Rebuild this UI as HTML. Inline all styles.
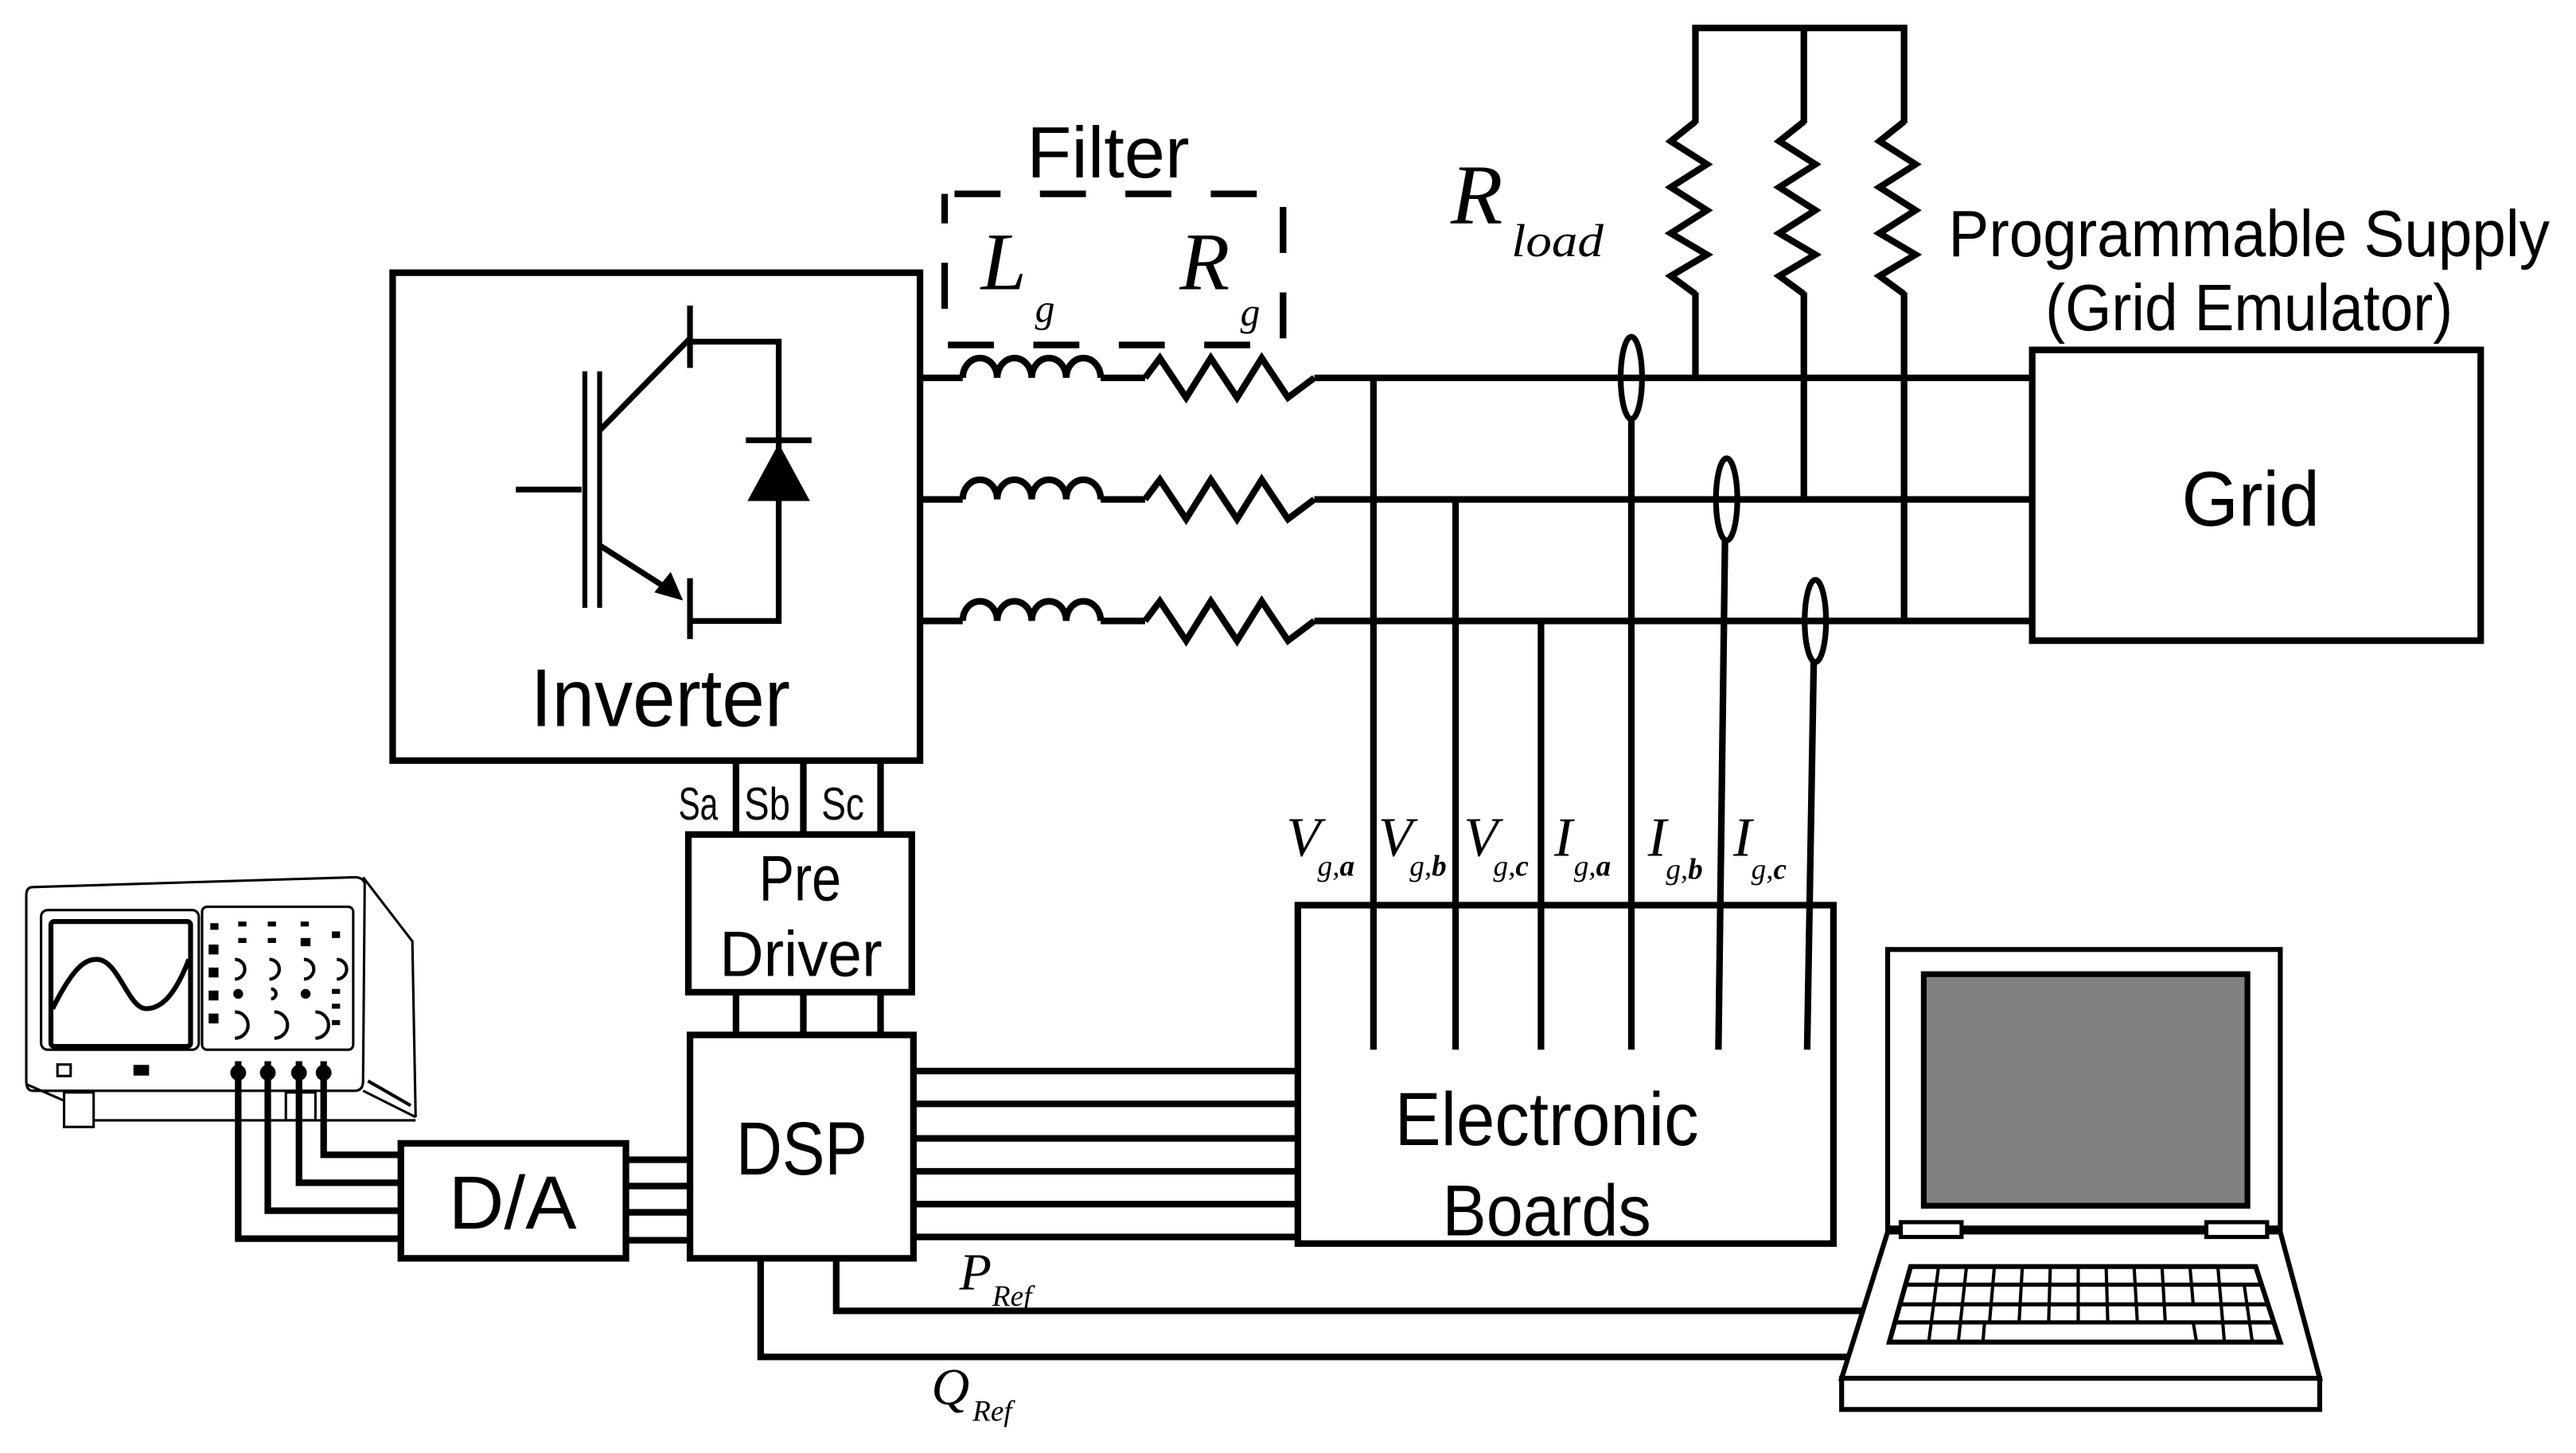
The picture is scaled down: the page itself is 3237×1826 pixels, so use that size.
<!DOCTYPE html>
<html><head><meta charset="utf-8"><style>
html,body{margin:0;padding:0;background:#fff;}
svg{display:block;}
.s{font-family:"Liberation Sans",sans-serif;}
.m{font-family:"Liberation Serif",serif;font-style:italic;}
</style></head><body>
<svg width="3237" height="1826" viewBox="0 0 1568 884.5" preserveAspectRatio="none" xmlns="http://www.w3.org/2000/svg">
<rect x="0" y="0" width="1568" height="885" fill="#fff"/>
<g fill="none" stroke="#000" stroke-width="4">
<rect x="239" y="166" width="321" height="297"/>
<line x1="314" y1="298" x2="354" y2="298" stroke-width="3.5"/>
<line x1="356" y1="226" x2="356" y2="370" stroke-width="3"/>
<line x1="365" y1="226" x2="365" y2="370" stroke-width="3"/>
<line x1="365" y1="262" x2="420" y2="206" stroke-width="3.5"/>
<line x1="420" y1="186" x2="420" y2="224" stroke-width="3.5"/>
<polyline points="420,208 474,208 474,378 420,378" stroke-width="3.5"/>
<line x1="365" y1="332" x2="412" y2="362" stroke-width="3.5"/>
<line x1="420" y1="352" x2="420" y2="389" stroke-width="3.5"/>
<line x1="454" y1="268" x2="494" y2="268" stroke-width="3.5"/>
<rect x="575" y="118" width="206" height="92" stroke-dasharray="28,24" stroke-dashoffset="-6"/>
<line x1="448" y1="463" x2="448" y2="508"/><line x1="489" y1="463" x2="489" y2="508"/><line x1="536" y1="463" x2="536" y2="508"/>
<rect x="419" y="508" width="136" height="96"/>
<line x1="448" y1="604" x2="448" y2="630"/><line x1="489" y1="604" x2="489" y2="630"/><line x1="536" y1="604" x2="536" y2="630"/>
<rect x="420" y="630" width="136" height="136"/>
<rect x="244" y="696" width="137" height="70"/>
<line x1="381" y1="706" x2="420" y2="706"/><line x1="381" y1="722" x2="420" y2="722"/><line x1="381" y1="738" x2="420" y2="738"/><line x1="381" y1="755" x2="420" y2="755"/>
<line x1="556" y1="652" x2="790" y2="652"/><line x1="556" y1="672" x2="790" y2="672"/><line x1="556" y1="693" x2="790" y2="693"/><line x1="556" y1="713" x2="790" y2="713"/><line x1="556" y1="733" x2="790" y2="733"/><line x1="556" y1="753" x2="790" y2="753"/>
<rect x="790" y="551" width="326" height="206"/>
<polyline points="509,766 509,798 1136,798"/>
<polyline points="463,766 463,826 1125,826"/>
<polyline points="197,646 197,703 244,703"/>
<polyline points="182,646 182,720 244,720"/>
<polyline points="163,646 163,737 244,737"/>
<polyline points="145,646 145,754 244,754"/>
<g id="ph">
<line x1="560" y1="230" x2="586" y2="230"/>
<path d="M586,230 a10.5,12 0 0 1 21,0 a10.5,12 0 0 1 21,0 a10.5,12 0 0 1 21,0 a10.5,12 0 0 1 21,0"/>
<line x1="670" y1="230" x2="697" y2="230"/>
<polyline points="697,230 706,218 722,242 737,218 753,242 768,218 784,242 800,230"/>
<line x1="800" y1="230" x2="1237" y2="230"/>
</g>
<use href="#ph" y="74"/>
<use href="#ph" y="148"/>
<line x1="836" y1="230" x2="836" y2="639"/>
<line x1="886" y1="304" x2="886" y2="639"/>
<line x1="938" y1="378" x2="938" y2="639"/>
<ellipse cx="993" cy="230" rx="6.5" ry="25" stroke-width="3.5"/>
<line x1="993" y1="255" x2="993" y2="639"/>
<ellipse cx="1051" cy="304" rx="6.5" ry="25" stroke-width="3.5"/>
<line x1="1050" y1="329" x2="1046" y2="639"/>
<ellipse cx="1105" cy="378" rx="6.5" ry="25" stroke-width="3.5"/>
<line x1="1104" y1="403" x2="1100" y2="639"/>
<polyline points="1032,230 1032,17 1159,17 1159,378"/>
<polyline points="1098,17 1098,304"/>
<g id="lr">
<rect x="1018" y="75" width="22" height="103" fill="#fff" stroke="none"/>
<polyline points="1032,74 1017,86 1039,100 1017,114 1039,128 1017,142 1039,155 1017,168 1032,179"/>
</g>
<use href="#lr" x="66"/>
<use href="#lr" x="127"/>
<rect x="1237" y="213" width="273" height="177"/>
</g>
<polygon points="474,270 455,305 493,305" fill="#000"/>
<polygon points="414,364 400,360 408,350" fill="#000" stroke="#000" stroke-width="2"/>
<g stroke="#000" stroke-width="3" fill="none">
<rect x="1149" y="578" width="239" height="170" fill="#fff"/>
<rect x="1171" y="593" width="197" height="141" fill="#808080" stroke-width="3.5"/>
<line x1="1149" y1="748" x2="1388" y2="748" stroke-width="4"/>
<polygon points="1149,750 1388,750 1412,839 1121,839" fill="#fff"/>
<rect x="1121" y="839" width="291" height="19" fill="#fff"/>
<rect x="1157" y="744" width="37" height="9" fill="#fff" stroke-width="2.5"/>
<rect x="1343" y="744" width="37" height="9" fill="#fff" stroke-width="2.5"/>
<polygon points="1163,771 1373,771 1388,817 1150,817"/>
<line x1="1160" y1="782" x2="1377" y2="782" stroke-width="2.5"/>
<line x1="1157" y1="794" x2="1381" y2="794" stroke-width="2.5"/>
<line x1="1154" y1="805" x2="1384" y2="805" stroke-width="2.5"/>
<g stroke-width="2">
<line x1="1180" y1="771" x2="1174" y2="817"/><line x1="1197" y1="771" x2="1192" y2="817"/><line x1="1214" y1="771" x2="1211" y2="805"/><line x1="1231" y1="771" x2="1229" y2="805"/><line x1="1248" y1="771" x2="1247" y2="805"/><line x1="1265" y1="771" x2="1265" y2="805"/><line x1="1282" y1="771" x2="1283" y2="805"/><line x1="1299" y1="771" x2="1301" y2="805"/><line x1="1316" y1="771" x2="1318" y2="805"/><line x1="1333" y1="771" x2="1335" y2="794"/><line x1="1350" y1="771" x2="1354" y2="817"/><line x1="1366" y1="782" x2="1371" y2="817"/>
<line x1="1208" y1="805" x2="1207" y2="817"/><line x1="1335" y1="805" x2="1337" y2="817"/>
</g>
</g>
<g stroke="#000" fill="none" stroke-width="1.5">
<path d="M20,540 L216,534 Q221,534 222,538 L221,658 Q221,664 216,664 L20,664 Q16,664 16,658 L16,545 Q16,540 20,540 Z"/>
<polyline points="221,534 251,573 253,680"/>
<line x1="221" y1="664" x2="253" y2="680"/>
<line x1="224" y1="658" x2="250" y2="673" stroke-width="2"/>
<polyline points="16,660 39,670"/>
<rect x="39" y="665" width="18" height="21"/>
<line x1="57" y1="682" x2="253" y2="682"/>
<rect x="174" y="665" width="18" height="17"/>
<rect x="25" y="554" width="96" height="85" rx="4"/>
<rect x="31" y="561" width="85" height="76" rx="2" stroke-width="3"/>
<path d="M32,614 C45,588 52,584 59,584 C72,584 78,614 89,614 C100,614 108,602 115,584" stroke-width="3"/>
<rect x="123" y="552" width="92" height="87" rx="3"/>
<rect x="35" y="648" width="8" height="7"/><rect x="82" y="649" width="8" height="5" fill="#000"/>
</g>
<g fill="#000">
<rect x="127" y="575" width="6" height="6"/><rect x="127" y="589" width="6" height="6"/><rect x="127" y="603" width="6" height="6"/><rect x="127" y="617" width="6" height="6"/>
<circle cx="145" cy="605" r="3"/><circle cx="186" cy="605" r="3"/><rect x="183" y="571" width="6" height="5"/>
<rect x="128" y="562" width="5" height="4"/><rect x="145" y="561" width="5" height="3"/><rect x="163" y="561" width="5" height="3"/><rect x="183" y="561" width="5" height="3"/><rect x="145" y="571" width="5" height="3"/><rect x="163" y="571" width="5" height="3"/><rect x="202" y="567" width="5" height="4"/><rect x="202" y="602" width="5" height="3"/><rect x="202" y="611" width="5" height="3"/><rect x="202" y="621" width="5" height="3"/>
<circle cx="145" cy="653" r="4.8"/><circle cx="163" cy="653" r="4.8"/><circle cx="182" cy="653" r="4.8"/><circle cx="197" cy="653" r="4.8"/>
</g>
<g stroke="#000" fill="none" stroke-width="2">
<path d="M143,584 a6,6 0 0 1 0,12"/><path d="M164,584 a6,6 0 0 1 0,12"/><path d="M185,584 a6,6 0 0 1 0,12"/><path d="M205,584 a6,6 0 0 1 0,12"/><path d="M165,602 a3,3 0 0 1 0,6"/>
<path d="M143,616 a8,8 0 0 1 0,16"/><path d="M167,616 a8,8 0 0 1 0,16"/><path d="M192,616 a8,8 0 0 1 0,16"/>
</g>
<g class="s" fill="#000">
<text x="625" y="108" font-size="44" textLength="99" lengthAdjust="spacingAndGlyphs">Filter</text>
<text x="323" y="442" font-size="50" textLength="158" lengthAdjust="spacingAndGlyphs">Inverter</text>
<text x="1186" y="156" font-size="40" textLength="366" lengthAdjust="spacingAndGlyphs">Programmable Supply</text>
<text x="1245" y="201" font-size="40" textLength="248" lengthAdjust="spacingAndGlyphs">(Grid Emulator)</text>
<text x="1328" y="320" font-size="47" textLength="84" lengthAdjust="spacingAndGlyphs">Grid</text>
<text x="413" y="499" font-size="28" textLength="24" lengthAdjust="spacingAndGlyphs">Sa</text>
<text x="453" y="499" font-size="28" textLength="28" lengthAdjust="spacingAndGlyphs">Sb</text>
<text x="500" y="499" font-size="28" textLength="26" lengthAdjust="spacingAndGlyphs">Sc</text>
<text x="462" y="548" font-size="39" textLength="50" lengthAdjust="spacingAndGlyphs">Pre</text>
<text x="438" y="594" font-size="39" textLength="99" lengthAdjust="spacingAndGlyphs">Driver</text>
<text x="448" y="715" font-size="46" textLength="80" lengthAdjust="spacingAndGlyphs">DSP</text>
<text x="273" y="748" font-size="46" textLength="78" lengthAdjust="spacingAndGlyphs">D/A</text>
<text x="849" y="697" font-size="46" textLength="185" lengthAdjust="spacingAndGlyphs">Electronic</text>
<text x="878" y="752" font-size="44" textLength="127" lengthAdjust="spacingAndGlyphs">Boards</text>
</g>
<g class="m" fill="#000">
<text x="597" y="176" font-size="50">L</text><text x="630" y="196" font-size="24">g</text>
<text x="718" y="176" font-size="50">R</text><text x="755" y="198" font-size="24">g</text>
<text x="883" y="136" font-size="52">R</text><text x="920" y="156" font-size="28" textLength="56" lengthAdjust="spacingAndGlyphs">load</text>
<text x="783" y="521" font-size="34">V</text><text x="802" y="533" font-size="18">g,<tspan font-weight="bold">a</tspan></text>
<text x="839" y="521" font-size="34">V</text><text x="858" y="533" font-size="18">g,<tspan font-weight="bold">b</tspan></text>
<text x="891" y="521" font-size="34">V</text><text x="909" y="533" font-size="18">g,<tspan font-weight="bold">c</tspan></text>
<text x="946" y="521" font-size="34">I</text><text x="958" y="533" font-size="18">g,<tspan font-weight="bold">a</tspan></text>
<text x="1003" y="521" font-size="34">I</text><text x="1014" y="535" font-size="18">g,<tspan font-weight="bold">b</tspan></text>
<text x="1055" y="521" font-size="34">I</text><text x="1066" y="535" font-size="18">g,<tspan font-weight="bold">c</tspan></text>
<text x="584" y="785" font-size="32">P</text><text x="604" y="795" font-size="18">Ref</text>
<text x="567" y="855" font-size="32">Q</text><text x="592" y="865" font-size="18">Ref</text>
</g>
</svg>
</body></html>
